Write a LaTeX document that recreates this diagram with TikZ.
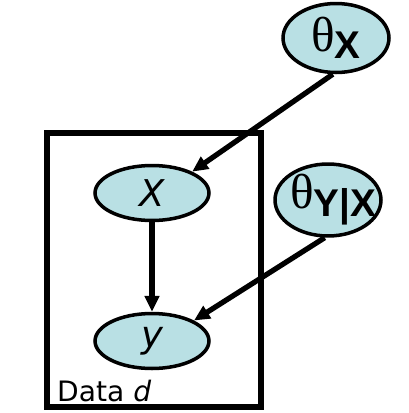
\documentclass[tikz,border=0pt]{standalone}
\usepackage{fontspec}
\usepackage{tikz}
\usetikzlibrary{shapes.geometric, arrows.meta, positioning}
\newfontfamily\handfont{DejaVu Sans}
\newfontfamily\greekfont{Liberation Serif}
\newfontfamily\subfont{Liberation Sans}
\definecolor{nodeblue}{RGB}{185, 224, 228}

\begin{document}
\begin{tikzpicture}[x=0.02cm, y=-0.02cm,
        var/.style={ellipse, draw=black, line width=2pt, fill=nodeblue, inner sep=0pt,
            minimum width=2.28cm, minimum height=1.1cm},
        param/.style={var, minimum width=2.12cm, minimum height=1.38cm},
        edge/.style={-{Triangle[length=9pt, width=8pt]}, line width=3pt}]
        \useasboundingbox (0,0) rectangle (409,413);
        % plate
        \draw[line width=3.2pt] (47,133) rectangle (261,407);
        \node[anchor=base west, font=\handfont\fontsize{16}{16}\selectfont] (plate) at (51,401) {Data \textit{d}};
        % variables
        \node[var, font=\handfont\itshape\fontsize{21}{21}\selectfont] (x) at (152,193) {X};
        \node[var, font=\handfont\itshape\fontsize{21}{21}\selectfont] (y) at (152,341) {y};
        \node[param] (tx) at (336,38) {\makebox[0pt]{{\greekfont\fontsize{28}{28}\selectfont θ}\raisebox{-0.4em}{\subfont\bfseries\fontsize{22}{22}\selectfont X}}};
        \node[param] (tyx) at (328,200) {\makebox[0pt]{\hspace{0.6em}{\greekfont\fontsize{28}{28}\selectfont θ}\raisebox{-0.45em}{\subfont\bfseries\fontsize{22}{22}\selectfont Y|X}}};
        % edges
        \draw[edge] (x.south) -- (y.north);
        \draw[edge] (tx.-95) -- (x.28);
        \draw[edge] (tyx.-95) -- (y.26);
    \end{tikzpicture}
\end{document}
